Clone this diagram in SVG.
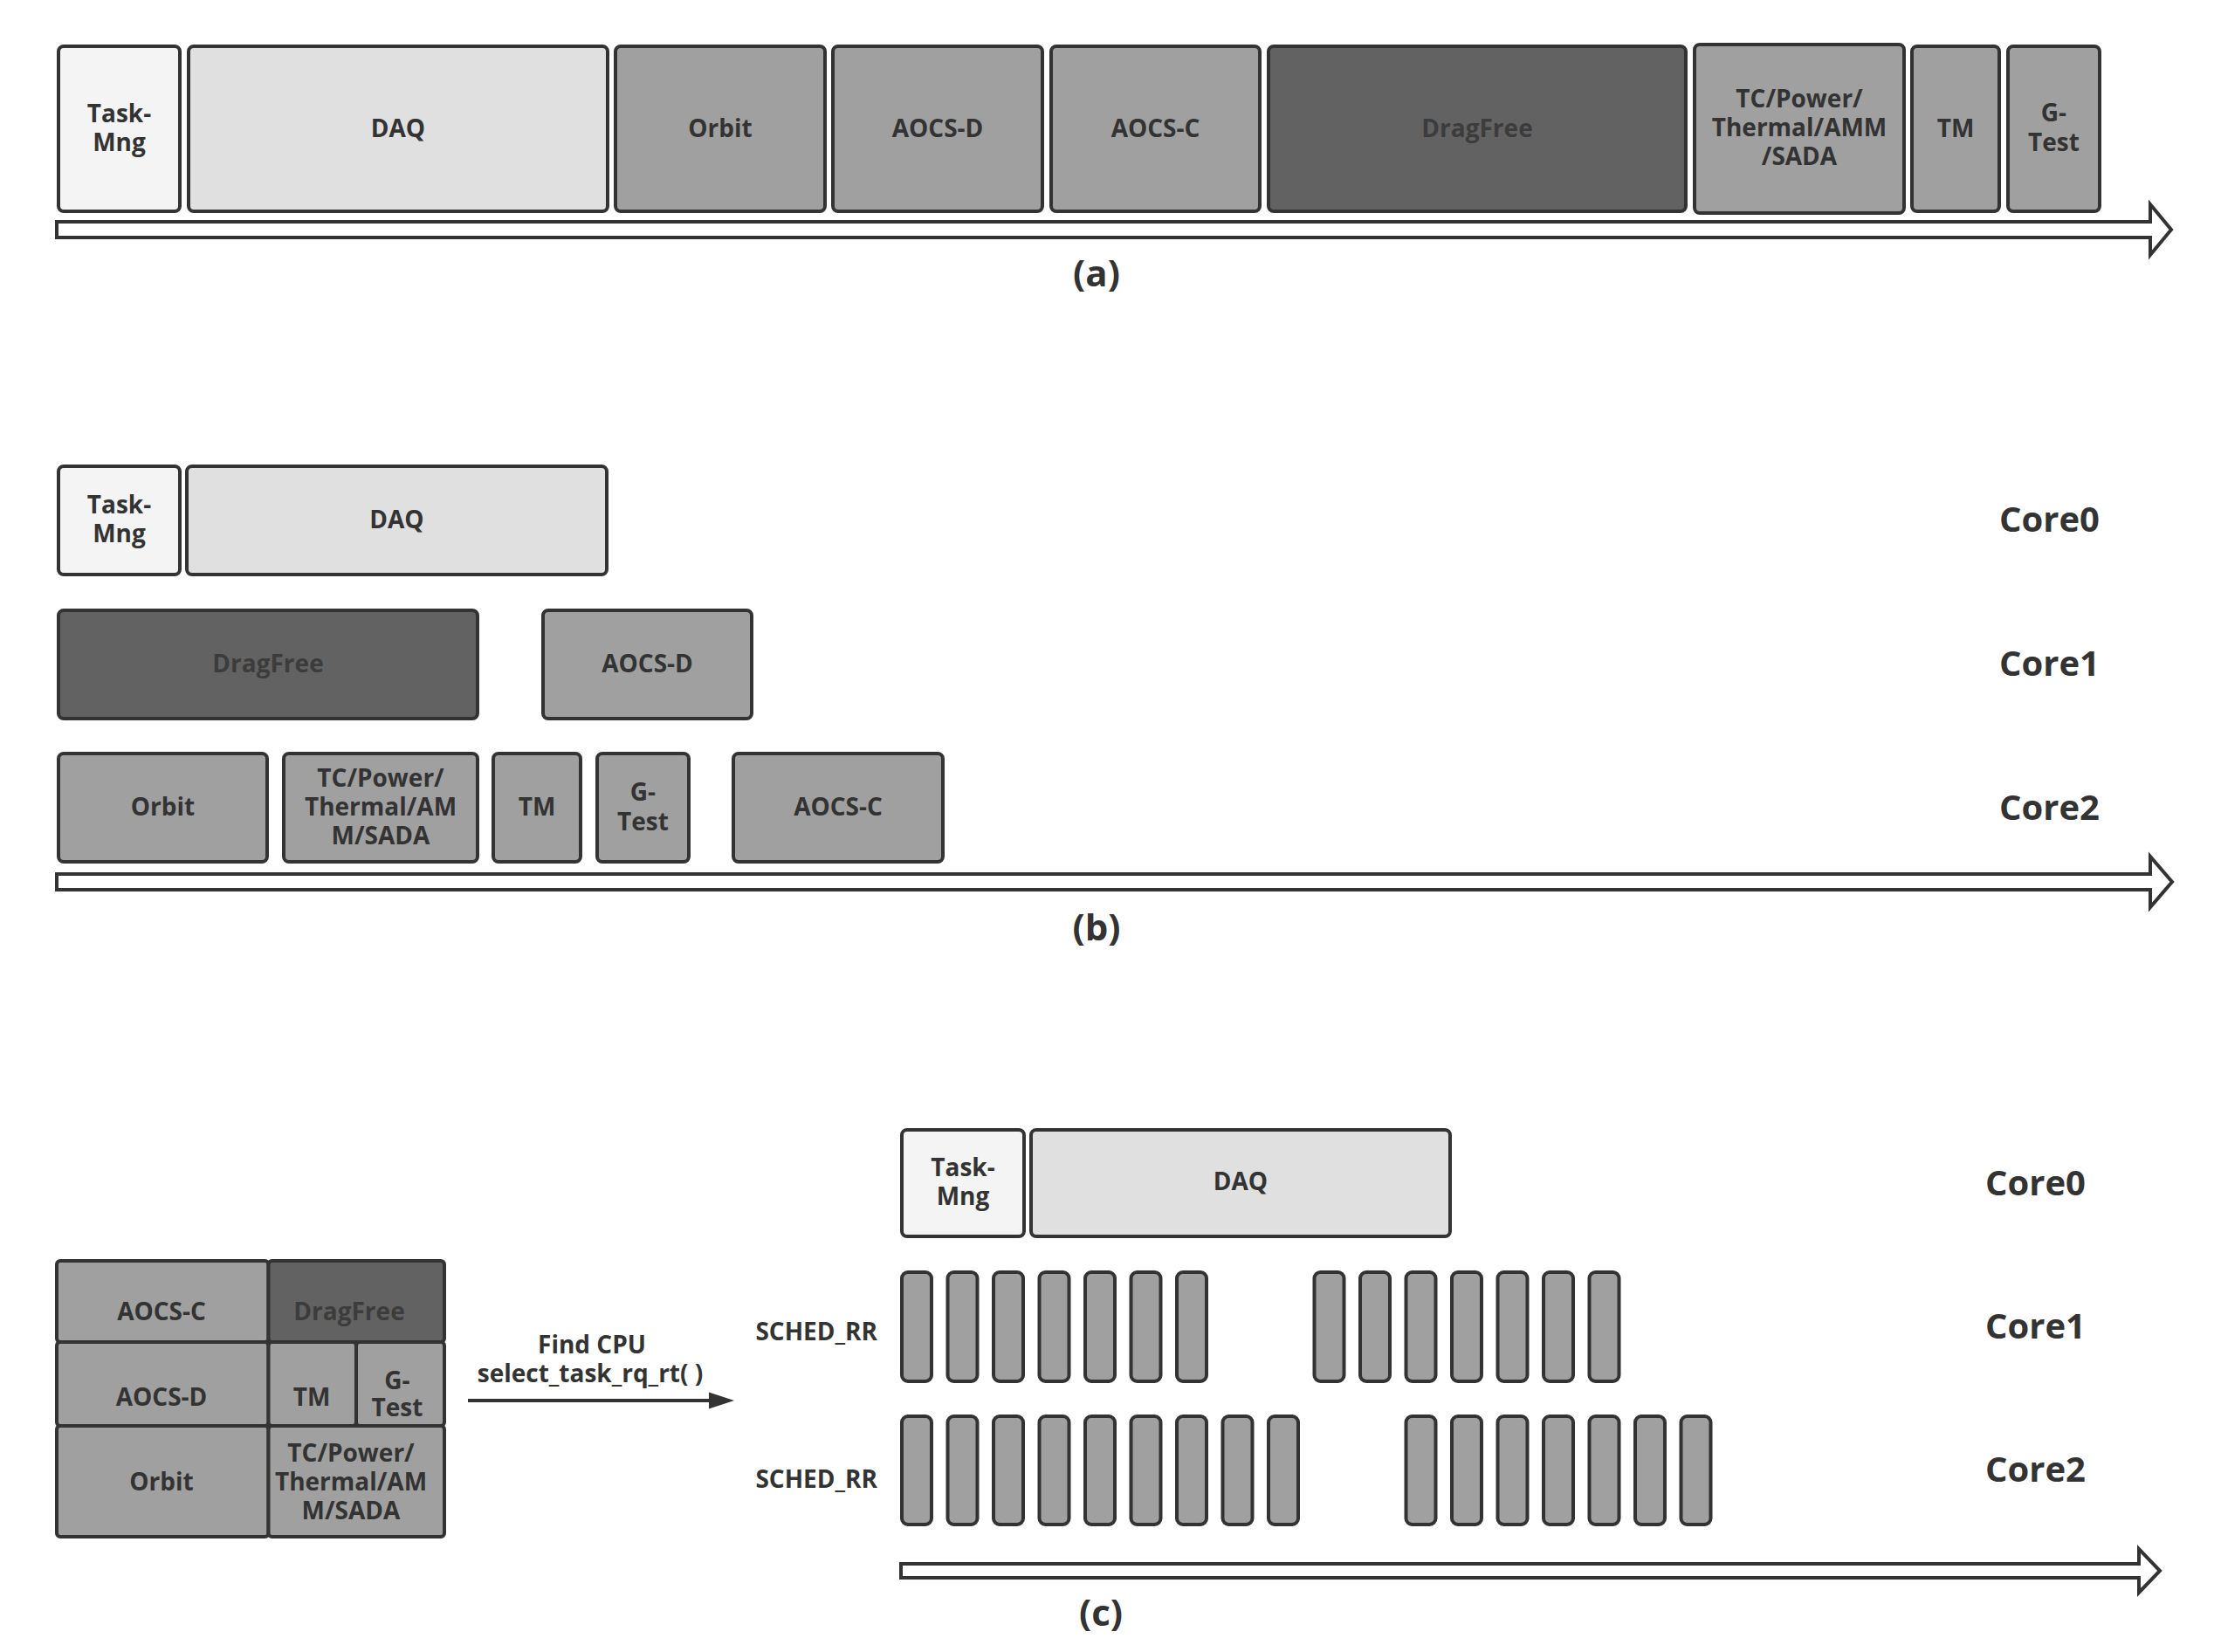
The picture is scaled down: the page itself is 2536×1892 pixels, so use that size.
<svg xmlns="http://www.w3.org/2000/svg" width="2536" height="1892" viewBox="0 0 2536 1892">
<style>
.bx{stroke:#333;stroke-width:4}
.l1{fill:#f4f4f4}.l2{fill:#e0e0e0}.m{fill:#a0a0a0}.d{fill:#626262}
.t{font-family:"Open Sans","Noto Sans","DejaVu Sans",sans-serif;font-weight:700;font-size:28px;fill:#333;text-anchor:middle}
.td{fill:#3c3c3c}
.core{font-family:"Open Sans","Noto Sans","DejaVu Sans",sans-serif;font-weight:700;font-size:40px;fill:#333}
.cap{font-family:"Open Sans","Noto Sans","DejaVu Sans",sans-serif;font-weight:700;font-size:42px;fill:#333;text-anchor:middle}
.sm{font-family:"Open Sans","Noto Sans","DejaVu Sans",sans-serif;font-weight:700;font-size:28px;fill:#333;text-anchor:middle}
.arr{fill:#fff;stroke:#333;stroke-width:4;stroke-linejoin:miter}
</style>
<rect width="2536" height="1892" fill="#fff"/>

<!-- (a) -->
<g id="a-taskmng"><rect class="bx l1" x="67" y="53" width="139" height="189" rx="6"/><text class="t" x="136.5" y="140">Task-</text><text class="t" x="136.5" y="173">Mng</text></g>
<g id="a-daq"><rect class="bx l2" x="216" y="53" width="480" height="189" rx="6"/><text class="t" x="456" y="157">DAQ</text></g>
<g id="a-orbit"><rect class="bx m" x="705" y="53" width="240" height="189" rx="6"/><text class="t" x="825" y="157">Orbit</text></g>
<g id="a-aocsd"><rect class="bx m" x="954" y="53" width="240" height="189" rx="6"/><text class="t" x="1074" y="157">AOCS-D</text></g>
<g id="a-aocsc"><rect class="bx m" x="1204" y="53" width="239" height="189" rx="6"/><text class="t" x="1323.5" y="157">AOCS-C</text></g>
<g id="a-dragfree"><rect class="bx d" x="1453" y="53" width="478" height="189" rx="6"/><text class="t td" x="1692" y="157">DragFree</text></g>
<g id="a-tc"><rect class="bx m" x="1941" y="51" width="240" height="193" rx="6"/><text class="t" x="2061" y="123">TC/Power/</text><text class="t" x="2061" y="156">Thermal/AMM</text><text class="t" x="2061" y="189">/SADA</text></g>
<g id="a-tm"><rect class="bx m" x="2190" y="53" width="100" height="189" rx="6"/><text class="t" x="2240" y="157">TM</text></g>
<g id="a-gtest"><rect class="bx m" x="2300" y="53" width="105" height="189" rx="6"/><text class="t" x="2352.5" y="139">G-</text><text class="t" x="2352.5" y="173">Test</text></g>

<!-- (b) -->
<g id="b-taskmng"><rect class="bx l1" x="67" y="534" width="139" height="124" rx="6"/><text class="t" x="136.5" y="588">Task-</text><text class="t" x="136.5" y="621">Mng</text></g>
<g id="b-daq"><rect class="bx l2" x="214" y="534" width="481" height="124" rx="6"/><text class="t" x="454.5" y="605">DAQ</text></g>
<g id="b-dragfree"><rect class="bx d" x="67" y="699" width="480" height="124" rx="6"/><text class="t td" x="307" y="770">DragFree</text></g>
<g id="b-aocsd"><rect class="bx m" x="622" y="699" width="239" height="124" rx="6"/><text class="t" x="741.5" y="770">AOCS-D</text></g>
<g id="b-orbit"><rect class="bx m" x="67" y="863" width="239" height="124" rx="6"/><text class="t" x="186.5" y="934">Orbit</text></g>
<g id="b-tc"><rect class="bx m" x="325" y="863" width="222" height="124" rx="6"/><text class="t" x="436" y="901">TC/Power/</text><text class="t" x="436" y="934">Thermal/AM</text><text class="t" x="436" y="967">M/SADA</text></g>
<g id="b-tm"><rect class="bx m" x="565" y="863" width="100" height="124" rx="6"/><text class="t" x="615" y="934">TM</text></g>
<g id="b-gtest"><rect class="bx m" x="684" y="863" width="105" height="124" rx="6"/><text class="t" x="736.5" y="917">G-</text><text class="t" x="736.5" y="951">Test</text></g>
<g id="b-aocsc"><rect class="bx m" x="840" y="863" width="240" height="124" rx="6"/><text class="t" x="960" y="934">AOCS-C</text></g>
<g id="b-labels"><text class="core" x="2290" y="609">Core0</text><text class="core" x="2290" y="774">Core1</text><text class="core" x="2290" y="939">Core2</text></g>

<!-- (c) stack -->
<g id="c-stack">
<rect class="bx m" x="65" y="1444" width="242.5" height="93" rx="4"/>
<rect class="bx d" x="307.5" y="1444" width="201.5" height="93" rx="4"/>
<rect class="bx m" x="65" y="1537" width="242.5" height="96" rx="4"/>
<rect class="bx m" x="307.5" y="1537" width="100.5" height="96" rx="4"/>
<rect class="bx m" x="408" y="1537" width="101" height="96" rx="4"/>
<rect class="bx m" x="65" y="1633" width="242.5" height="127" rx="4"/>
<rect class="bx m" x="307.5" y="1633" width="201.5" height="127" rx="4"/>
<text class="t" x="185" y="1512">AOCS-C</text>
<text class="t td" x="400" y="1512">DragFree</text>
<text class="t" x="185" y="1610">AOCS-D</text>
<text class="t" x="357" y="1610">TM</text>
<text class="t" x="455" y="1591">G-</text><text class="t" x="455" y="1622">Test</text>
<text class="t" x="185" y="1707">Orbit</text>
<text class="t" x="402" y="1674">TC/Power/</text><text class="t" x="402" y="1707">Thermal/AM</text><text class="t" x="402" y="1740">M/SADA</text>
</g>

<g id="c-taskmng"><rect class="bx l1" x="1033" y="1294" width="140" height="122" rx="6"/><text class="t" x="1103" y="1347">Task-</text><text class="t" x="1103" y="1380">Mng</text></g>
<g id="c-daq"><rect class="bx l2" x="1181" y="1294" width="480" height="122" rx="6"/><text class="t" x="1421" y="1363">DAQ</text></g>

<g id="c-core1-rr" class="bx m">
<rect x="1033" y="1457" width="34" height="125" rx="7"/><rect x="1085.5" y="1457" width="34" height="125" rx="7"/><rect x="1138" y="1457" width="34" height="125" rx="7"/><rect x="1190.5" y="1457" width="34" height="125" rx="7"/><rect x="1243" y="1457" width="34" height="125" rx="7"/><rect x="1295.5" y="1457" width="34" height="125" rx="7"/><rect x="1348" y="1457" width="34" height="125" rx="7"/>
<rect x="1505.5" y="1457" width="34" height="125" rx="7"/><rect x="1558" y="1457" width="34" height="125" rx="7"/><rect x="1610.5" y="1457" width="34" height="125" rx="7"/><rect x="1663" y="1457" width="34" height="125" rx="7"/><rect x="1715.5" y="1457" width="34" height="125" rx="7"/><rect x="1768" y="1457" width="34" height="125" rx="7"/><rect x="1820.5" y="1457" width="34" height="125" rx="7"/>
</g>
<g id="c-core2-rr" class="bx m">
<rect x="1033" y="1622" width="34" height="124" rx="7"/><rect x="1085.5" y="1622" width="34" height="124" rx="7"/><rect x="1138" y="1622" width="34" height="124" rx="7"/><rect x="1190.5" y="1622" width="34" height="124" rx="7"/><rect x="1243" y="1622" width="34" height="124" rx="7"/><rect x="1295.5" y="1622" width="34" height="124" rx="7"/><rect x="1348" y="1622" width="34" height="124" rx="7"/><rect x="1400.5" y="1622" width="34" height="124" rx="7"/><rect x="1453" y="1622" width="34" height="124" rx="7"/>
<rect x="1610.5" y="1622" width="34" height="124" rx="7"/><rect x="1663" y="1622" width="34" height="124" rx="7"/><rect x="1715.5" y="1622" width="34" height="124" rx="7"/><rect x="1768" y="1622" width="34" height="124" rx="7"/><rect x="1820.5" y="1622" width="34" height="124" rx="7"/><rect x="1873" y="1622" width="34" height="124" rx="7"/><rect x="1925.5" y="1622" width="34" height="124" rx="7"/>
</g>
<g id="c-labels">
<text class="t" x="1005" y="1535" style="text-anchor:end">SCHED_RR</text>
<text class="t" x="1005" y="1704" style="text-anchor:end">SCHED_RR</text>
<text class="core" x="2274" y="1369">Core0</text><text class="core" x="2274" y="1533">Core1</text><text class="core" x="2274" y="1697">Core2</text>
<text class="sm" x="678" y="1550">Find CPU</text>
<text class="sm" x="676" y="1583">select_task_rq_rt( )</text>
</g>

<g id="connectors">
<path class="arr" d="M65,254 H2463 V234 L2487,263 L2463,292 V272 H65 Z"/>
<path class="arr" d="M65,1001 H2463 V981 L2488,1010 L2463,1039 V1019 H65 Z"/>
<path class="arr" d="M1032,1791 H2450 V1774 L2474,1799 L2450,1824 V1807 H1032 Z"/>
<line x1="536" y1="1604" x2="816" y2="1604" stroke="#333" stroke-width="4"/>
<polygon points="812,1594.5 841,1604 812,1613.5" fill="#333"/>
</g>
<g id="captions">
<text class="cap" x="1256" y="328">(a)</text>
<text class="cap" x="1256" y="1077">(b)</text>
<text class="cap" x="1261" y="1862">(c)</text>
</g>
</svg>
